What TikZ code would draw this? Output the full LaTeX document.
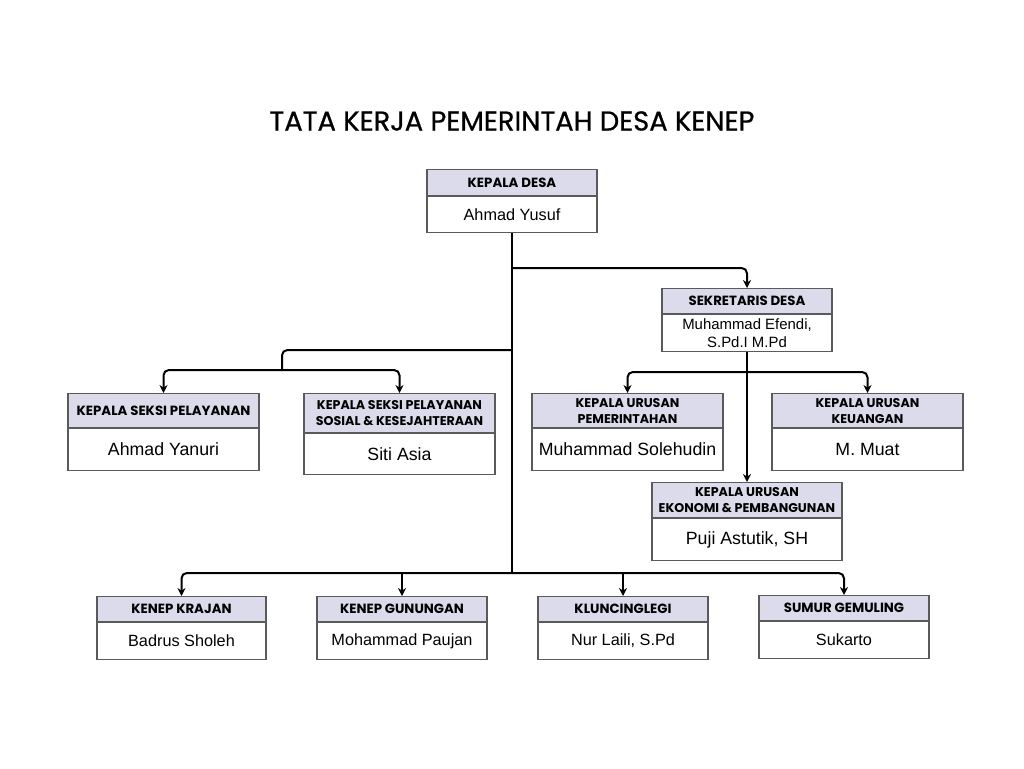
\documentclass[tikz,border=0pt]{standalone}
\usepackage{fontspec}
\setmainfont{Liberation Sans}
\newfontfamily\titlefont{Poppins}[FakeBold=0.7]
\newfontfamily\headfont{Poppins}[BoldFont=* Bold]
\usetikzlibrary{arrows.meta,positioning}
\definecolor{lav}{HTML}{DCDBEC}
\definecolor{frame}{HTML}{5A5A5A}
\newcommand\pxu{0.75pt}
\tikzset{
  head/.style={draw=frame, line width=0.8pt, fill=lav, anchor=north, align=center, inner sep=0pt,
    font=\headfont\bfseries\fontsize{10}{12}\selectfont},
  headtwo/.style={head, font=\headfont\bfseries\fontsize{9.5}{12}\selectfont},
  body/.style={draw=frame, line width=0.8pt, fill=white, anchor=north, align=center, inner sep=0pt,
    font=\fontsize{12.2}{14}\selectfont},
  bigname/.style={font=\fontsize{13.3}{16}\selectfont},
  boxw/.style={minimum width=#1*\pxu},
  boxh/.style={minimum height=#1*\pxu},
  trunk/.style={draw=black, line width=1.5pt, rounded corners=4pt},
  link/.style={trunk, -{Stealth[length=6pt,width=6pt]}},
}
\begin{document}
\begin{tikzpicture}[x=0.75pt,y=-0.75pt]
  \fill[white] (0,0) rectangle (1024,768);
  \useasboundingbox (0,0) rectangle (1024,768);
  % title
  \node[font=\titlefont\fontsize{20.5}{22}\selectfont] (title) at (512,121) {TATA KERJA PEMERINTAH DESA KENEP};
  % kepala desa
  \node[head,boxw=170,boxh=26] (kades-h) at (512,169) {KEPALA DESA};
  \node[body,boxw=170,boxh=36] (kades) at (kades-h.south) {Ahmad Yusuf};
  % sekretaris
  \node[head,boxw=170,boxh=25] (sekr-h) at (747,288) {SEKRETARIS DESA};
  \node[body,boxw=170,boxh=37,font=\fontsize{11.2}{13.5}\selectfont] (sekr) at (sekr-h.south) {Muhammad Efendi,\\S.Pd.I M.Pd};
  % kepala seksi
  \node[head,boxw=191,boxh=34] (ksp-h) at (163.5,393) {KEPALA SEKSI PELAYANAN};
  \node[body,bigname,boxw=191,boxh=42] (ksp) at (ksp-h.south) {Ahmad Yanuri};
  \node[headtwo,boxw=191,boxh=39] (kss-h) at (399.5,393) {KEPALA SEKSI PELAYANAN\\SOSIAL \& KESEJAHTERAAN};
  \node[body,bigname,boxw=191,boxh=41] (kss) at (kss-h.south) {Siti Asia};
  % kepala urusan
  \node[headtwo,boxw=191,boxh=34] (kup-h) at (627.5,393) {KEPALA URUSAN\\PEMERINTAHAN};
  \node[body,bigname,boxw=191,boxh=42] (kup) at (kup-h.south) {Muhammad Solehudin};
  \node[headtwo,boxw=191,boxh=34] (kuk-h) at (867.5,393) {KEPALA URUSAN\\KEUANGAN};
  \node[body,bigname,boxw=191,boxh=42] (kuk) at (kuk-h.south) {M. Muat};
  \node[headtwo,boxw=190,boxh=35] (kue-h) at (747,482) {KEPALA URUSAN\\EKONOMI \& PEMBANGUNAN};
  \node[body,bigname,boxw=190,boxh=42] (kue) at (kue-h.south) {Puji Astutik, SH};
  % dusun
  \node[head,boxw=169,boxh=25] (kr-h) at (181.5,596) {KENEP KRAJAN};
  \node[body,boxw=169,boxh=37] (kr) at (kr-h.south) {Badrus Sholeh};
  \node[head,boxw=170,boxh=25] (kg-h) at (402,596) {KENEP GUNUNGAN};
  \node[body,boxw=170,boxh=37] (kg) at (kg-h.south) {Mohammad Paujan};
  \node[head,boxw=170,boxh=25] (kl-h) at (623,596) {KLUNCINGLEGI};
  \node[body,boxw=170,boxh=37] (kl) at (kl-h.south) {Nur Laili, S.Pd};
  \node[head,boxw=170,boxh=25] (sg-h) at (844,595) {SUMUR GEMULING};
  \node[body,boxw=170,boxh=37] (sg) at (sg-h.south) {Sukarto};
  % connectors
  \coordinate (top) at (kades.south |- 0,268);
  \coordinate (mid) at (kades.south |- 0,350);
  \coordinate (low) at (kades.south |- 0,573);
  \coordinate (ks) at (282,350);
  \coordinate (ksb) at (282,370);
  \coordinate (sb) at (sekr.south |- 0,372);
  \draw[trunk] (kades.south) -- (low);
  \draw[link] (top) -| (sekr-h.north);
  \draw[trunk] (mid) -- (ks) -- (ksb);
  \draw[link] (ksb) -| (ksp-h.north);
  \draw[link] (ksb) -| (kss-h.north);
  \draw[link] (sekr.south) -- (kue-h.north);
  \draw[link] (sb) -| (kup-h.north);
  \draw[link] (sb) -| (kuk-h.north);
  \draw[link] (low) -| (kr-h.north);
  \draw[link] (low) -| (sg-h.north);
  \draw[link] (kg-h.north |- low) -- (kg-h.north);
  \draw[link] (kl-h.north |- low) -- (kl-h.north);
\end{tikzpicture}
\end{document}
